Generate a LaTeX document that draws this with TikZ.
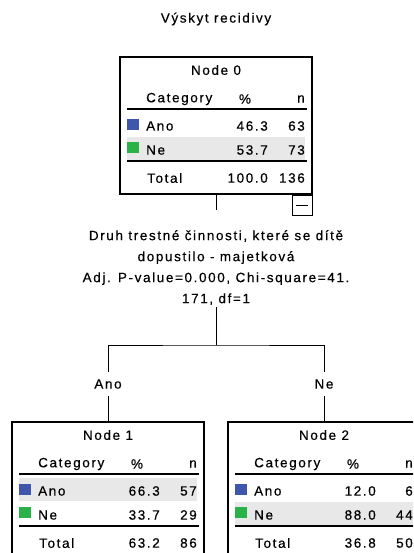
\documentclass[tikz,border=0pt]{standalone}
\usepackage{fontspec}
\setmainfont{Liberation Sans}[LetterSpace=12, FakeBold=0.4]
\usetikzlibrary{calc}

\definecolor{spssblue}{RGB}{62,86,172}
\definecolor{spssgreen}{RGB}{40,178,72}
\definecolor{rowgray}{RGB}{232,232,232}

\begin{document}
\begin{tikzpicture}[x=1pt, y=-1pt,
    font=\fontsize{13.5}{21}\selectfont,
    nodebox/.style={draw, line width=1.2pt, minimum width=192pt, minimum height=137pt, inner sep=0pt},
    cell/.style={inner sep=0pt},
    rule/.style={line width=1.5pt},
    link/.style={line width=0.9pt},
    branch/.style={inner sep=0pt, minimum height=23pt},
    swatch/.style={inner sep=0pt, minimum size=11.5pt}]

    \useasboundingbox (0,0) rectangle (413,553);
    \clip (0,0) rectangle (413,553);

    % Title
    \node (title) [cell] at (216,19) {Výskyt recidivy};

    % Nodes
    \foreach \nm/\px/\py/\num/\sh/\ap/\an/\np/\nn/\tp/\tn in {
        box0/120/57/0/93/46.3/63/53.7/73/100.0/136,
        box1/12/422/1/69/66.3/57/33.7/29/63.2/86,
        box2/228/422/2/93/12.0/6/88.0/44/36.8/50}
    {
        \fill[rowgray] ({\px+7},{\py+\sh-13}) rectangle ({\px+185},{\py+\sh+10});
        \node (\nm) [nodebox] at ({\px+96},{\py+68.5}) {};
        \node (\nm-head) [cell] at ({\px+96},{\py+13}) {Node \num};
        \node (\nm-cat) [cell, anchor=west] at ({\px+26},{\py+42}) {Category};
        \node (\nm-pct) [cell] at ({\px+125},{\py+42}) {\%};
        \node (\nm-n) [cell, anchor=east] at ({\px+185},{\py+42}) {n};
        \draw[rule] ({\px+7},{\py+52}) -- ({\px+187},{\py+52});
        \node (\nm-sa) [swatch, fill=spssblue] at ({\px+13},{\py+67.5}) {};
        \node (\nm-ano) [cell, anchor=west] at ({\px+26},{\py+69}) {Ano};
        \node (\nm-ap) [cell, anchor=east] at ({\px+148},{\py+69}) {\ap};
        \node (\nm-an) [cell, anchor=east] at ({\px+185},{\py+69}) {\an};
        \node (\nm-sn) [swatch, fill=spssgreen] at ({\px+13},{\py+90.5}) {};
        \node (\nm-ne) [cell, anchor=west] at ({\px+26},{\py+93}) {Ne};
        \node (\nm-np) [cell, anchor=east] at ({\px+148},{\py+93}) {\np};
        \node (\nm-nn) [cell, anchor=east] at ({\px+185},{\py+93}) {\nn};
        \draw[rule] ({\px+7},{\py+104}) -- ({\px+187},{\py+104});
        \node (\nm-tot) [cell, anchor=west] at ({\px+27},{\py+121}) {Total};
        \node (\nm-tp) [cell, anchor=east] at ({\px+148},{\py+121}) {\tp};
        \node (\nm-tn) [cell, anchor=east] at ({\px+185},{\py+121}) {\tn};
        \node (\nm-fold) [draw, line width=1.1pt, minimum size=20pt, inner sep=0pt,
            anchor=north east] at (\nm.south east) {};
        \draw[line width=1.1pt] ($(\nm-fold.center)+(-6,0)$) -- ($(\nm-fold.center)+(6,0)$);
    }

    % Split text
    \node (split) [cell, align=center, anchor=north, inner ysep=2pt] at (216,228)
        {Druh trestné činnosti, které se dítě\\
         dopustilo - majetková\\
         Adj. P-value=0.000, Chi-square=41.\\
         171, df=1};
    \coordinate (fork) at (216,345);

    % Branch labels
    \node (lab1) [branch] at (108,384) {Ano};
    \node (lab2) [branch] at (324,384) {Ne};

    % Connectors
    \draw[link, shorten >=18pt] (box0.south) -- (split.north);
    \draw[link] (split.south) -- (fork);
    \draw[link] (lab1.north) |- (fork) -| (lab2.north);
    \draw[link] (lab1.south) -- (box1.north);
    \draw[link] (lab2.south) -- (box2.north);

\end{tikzpicture}
\end{document}
